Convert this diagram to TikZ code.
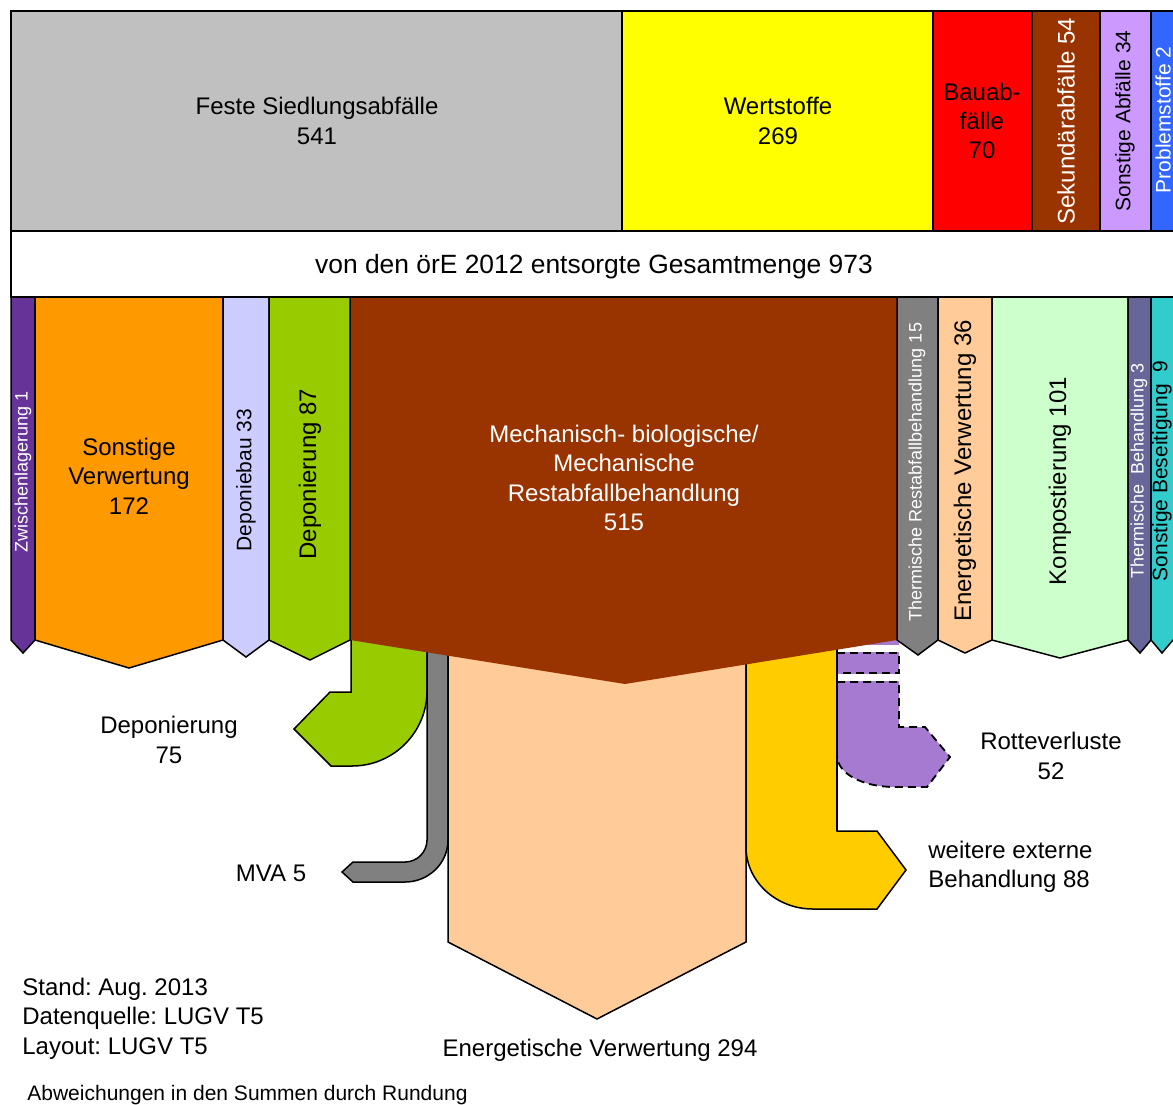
\documentclass[tikz,border=0pt]{standalone}
\usepackage{fontspec}
\setmainfont{Liberation Sans}
\frenchspacing
\definecolor{cgray}{HTML}{C0C0C0}
\definecolor{cyellow}{HTML}{FFFF00}
\definecolor{cred}{HTML}{FF0000}
\definecolor{cbrown}{HTML}{993300}
\definecolor{clilac}{HTML}{CC99FF}
\definecolor{cblue}{HTML}{3366FF}
\definecolor{cpurple}{HTML}{663399}
\definecolor{corange}{HTML}{FF9900}
\definecolor{clav}{HTML}{CCCCFF}
\definecolor{cgreen}{HTML}{99CC00}
\definecolor{cdgray}{HTML}{808080}
\definecolor{cpeach}{HTML}{FFCC99}
\definecolor{clgreen}{HTML}{CCFFCC}
\definecolor{cslate}{HTML}{666699}
\definecolor{ccyan}{HTML}{33CCCC}
\definecolor{cgold}{HTML}{FFCC00}
\definecolor{cviolet}{HTML}{A57AD0}
\tikzset{
  box/.style={draw=black, line width=1pt},
  band/.style={draw=black, line width=0.75pt, line join=miter},
  lbl/.style={font=\fontsize{12}{14.7}\selectfont, align=center, inner sep=0pt},
  small/.style={font=\fontsize{9}{11}\selectfont, inner sep=0pt},
  mid/.style={font=\fontsize{10.5}{12.6}\selectfont, inner sep=0pt},
  dsh/.style={draw=black, line width=0.9pt, dash pattern=on 4pt off 2.5pt},
}
\begin{document}
\begin{tikzpicture}[x=0.5pt, y=-0.5pt]
\useasboundingbox (0,0) rectangle (1173,1104);
\clip (0,0) rectangle (1173,1104);
\fill[white] (0,0) rectangle (1173,1104);

% ---- lower flows (under the MBA box)
% Deponierung 75
\filldraw[band, fill=cgreen] (351,600) -- (351,692) -- (330,692) -- (294,729) -- (331,766) -- (352,766)
  .. controls (393.4,766) and (427,732.4) .. (427,691) -- (427,600) -- cycle;
% MVA 5
\filldraw[band, fill=cdgray] (427,600) -- (427,840) .. controls (427,852.1) and (417.1,862) .. (405,862)
  -- (353,862) -- (342,872) -- (353,882) -- (405,882)
  .. controls (428.2,882) and (448,863.7) .. (448,840) -- (448,600) -- cycle;
% Energetische Verwertung 294
\filldraw[band, fill=cpeach] (448,600) -- (448,942) -- (597,1019) -- (746,942) -- (746,600) -- cycle;
% weitere externe Behandlung 88
\filldraw[band, fill=cgold] (746,600) -- (746,847) .. controls (746,881.2) and (776,909) .. (813,909)
  -- (877,909) -- (906,870) -- (877,831) -- (837,831) -- (837,600) -- cycle;
% Rotteverluste 52
\fill[cviolet] (837,600) -- (899,600) -- (899,727) -- (925,727) -- (950,757) -- (927,787) -- (895,787)
  .. controls (863,787) and (837,774) .. (837,755) -- cycle;
\fill[white] (838,645) rectangle (899,652);
\fill[white] (838,674) rectangle (899,681);
\draw[dsh] (837,653) -- (899,653) -- (899,673) -- (837,673);
\draw[dsh] (837,682) -- (899,682) -- (899,727) -- (925,727) -- (950,757) -- (927,787) -- (895,787)
  .. controls (863,787) and (837,774) .. (837,755);
\draw[line width=0.75pt] (837,600) -- (837,831);

% ---- MBA box
\fill[cbrown] (350,297) -- (897,297) -- (897,640) -- (625,684) -- (350,640) -- cycle;

% ---- bands
\filldraw[band, fill=cpurple] (11,297) -- (11,640) -- (23,653) -- (35,640) -- (35,297) -- cycle;
\filldraw[band, fill=corange] (35,297) -- (35,640) -- (129,668) -- (223,640) -- (223,297) -- cycle;
\filldraw[band, fill=clav] (223,297) -- (223,640) -- (246,657) -- (269,640) -- (269,297) -- cycle;
\filldraw[band, fill=cgreen] (269,297) -- (269,640) -- (310,660) -- (350,640) -- (350,297) -- cycle;
\filldraw[band, fill=cdgray] (897,297) -- (897,640) -- (918,655) -- (938,640) -- (938,297) -- cycle;
\filldraw[band, fill=cpeach] (938,297) -- (938,640) -- (965,653) -- (992,640) -- (992,297) -- cycle;
\filldraw[band, fill=clgreen] (992,297) -- (992,640) -- (1060,658) -- (1128,640) -- (1128,297) -- cycle;
\filldraw[band, fill=cslate] (1128,297) -- (1128,640) -- (1140,653) -- (1151,640) -- (1151,297) -- cycle;
\filldraw[band, fill=ccyan] (1151,297) -- (1151,640) -- (1162,653) -- (1173,640) -- (1185,640) -- (1185,297) -- cycle;

% ---- top boxes
\filldraw[box, fill=cgray] (11,11) rectangle (622,231);
\filldraw[box, fill=cyellow] (622,11) rectangle (933,231);
\filldraw[box, fill=cred] (933,11) rectangle (1032,231);
\filldraw[box, fill=cbrown] (1032,11) rectangle (1100,231);
\filldraw[box, fill=clilac] (1100,11) rectangle (1151,231);
\filldraw[box, fill=cblue] (1151,11) rectangle (1185,231);
\draw[box] (11,231) rectangle (1185,297);

% ---- texts top
\node[lbl] (fsa) at (317,121) {Feste Siedlungsabfälle\\541};
\node[lbl] (wst) at (778,121) {Wertstoffe\\269};
\node[lbl] (bau) at (982,121) {Bauab-\\fälle\\70};
\node[lbl, rotate=90, white] (sek) at (1066,121) {Sekundärabfälle 54};
\node[mid, rotate=90] (soa) at (1125,121) {Sonstige Abfälle 34};
\node[mid, rotate=90, white] (prb) at (1163,120) {Problemstoffe 2};
\node[inner sep=0pt, font=\fontsize{13.2}{15}\selectfont] (ges) at (594,267) {von den örE 2012 entsorgte Gesamtmenge 973};

% ---- texts bands
\node[small, rotate=90, white] (zwl) at (23,472) {Zwischenlagerung 1};
\node[lbl] (sv) at (129,476) {Sonstige\\Verwertung\\172};
\node[mid, rotate=90] (dpb) at (246,480) {Deponiebau 33};
\node[lbl, rotate=90] (dp87) at (310,474) {Deponierung 87};
\node[lbl, white] (mba) at (624,478) {Mechanisch- biologische/\\Mechanische\\Restabfallbehandlung\\515};
\node[small, rotate=90, white] (trb) at (917,472) {Thermische Restabfallbehandlung 15};
\node[lbl, rotate=90] (ev36) at (965,471) {Energetische Verwertung 36};
\node[lbl, rotate=90] (kom) at (1060,481) {Kompostierung 101};
\node[small, rotate=90, white] (tb3) at (1139,471) {Thermische\ \ Behandlung 3};
\node[mid, rotate=90] (sb9) at (1162,471) {Sonstige Beseitigung\ \ 9};

% ---- texts lower
\node[lbl] (dep75) at (169,740) {Deponierung\\75};
\node[lbl] (mva) at (271,873) {MVA 5};
\node[lbl] (rot) at (1051,756) {Rotteverluste\\52};
\node[lbl, align=left, anchor=west] (web) at (928,867) {weitere externe\\Behandlung 88};
\node[lbl] (ev294) at (600,1050) {Energetische Verwertung 294};
\node[lbl, align=left, anchor=west] (stand) at (22,1018.5) {Stand: Aug. 2013\\Datenquelle: LUGV T5\\Layout: LUGV T5};
\node[mid, anchor=west] (abw) at (27,1095) {Abweichungen in den Summen durch Rundung};
\end{tikzpicture}
\end{document}
